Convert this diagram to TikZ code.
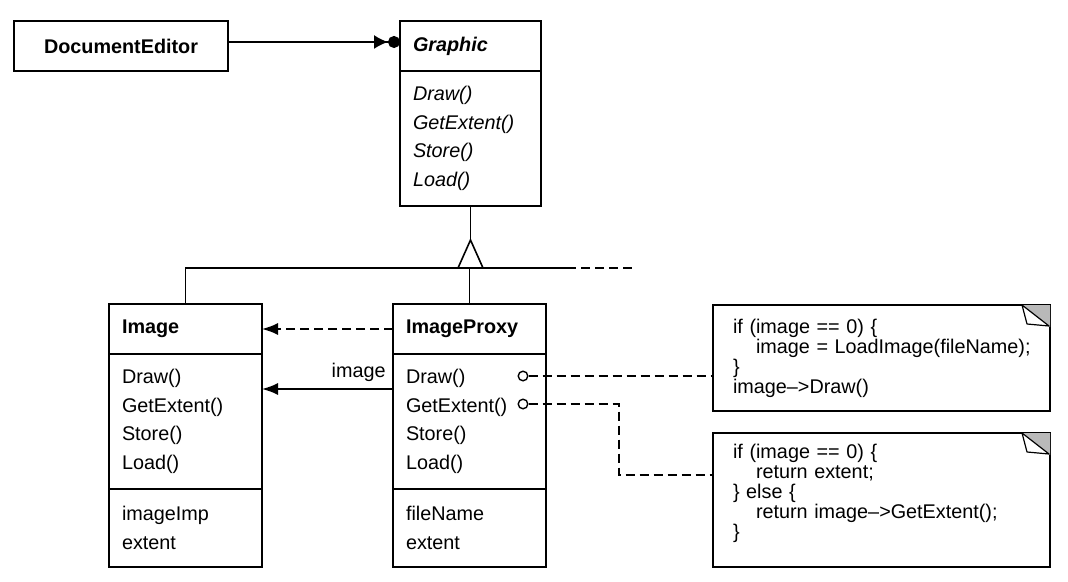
\documentclass[tikz,border=0pt]{standalone}
\usepackage{fontspec}
\setmainfont{Liberation Sans}
\usetikzlibrary{positioning,arrows.meta}

\newcommand\umlfont{\fontsize{9.9}{14.25}\selectfont}
\newcommand\notefont{\fontsize{9.9}{10}\selectfont}

\tikzset{
  cls/.style={draw,line width=.8pt,outer sep=0pt,inner xsep=6.5pt,inner ysep=0pt,
    align=left,anchor=north west,font=\umlfont},
  hdr/.style={cls,minimum height=25pt,font=\umlfont\bfseries},
  ops/.style={cls,minimum height=67.5pt},
  atts/.style={cls,minimum height=39pt},
  note/.style={draw,line width=.8pt,outer sep=0pt,inner xsep=10pt,anchor=north west,
    align=left,text width=148.5pt,font=\notefont},
  pin/.style={circle,draw,line width=.7pt,fill=white,inner sep=0pt,minimum size=4.8pt},
  conn/.style={line width=.8pt},
  dsh/.style={conn,dash pattern=on 4.5pt off 2.5pt},
  head/.style={-{Latex[length=8pt,width=6pt]}},
}

\begin{document}
\begin{tikzpicture}[x=.5pt,y=-.5pt]
\useasboundingbox (0,0) rectangle (1068,582);
%CLASSES
\node[hdr,text width=94pt,align=center] (docEd) at (14,21) {DocumentEditor};
\node[hdr,text width=57.5pt,font=\umlfont\bfseries\itshape] (graphicH) at (400,21) {Graphic};
\node[ops,text width=57.5pt,font=\umlfont\itshape,below=0pt of graphicH] (graphicOps) {Draw()\\GetExtent()\\Store()\\Load()};

\node[hdr,text width=63.5pt] (imageH) at (109,304) {Image};
\node[ops,text width=63.5pt,below=0pt of imageH] (imageOps) {Draw()\\GetExtent()\\Store()\\Load()};
\node[atts,text width=63.5pt,below=0pt of imageOps] (imageAtt) {imageImp\\extent};

\node[hdr,text width=63.5pt] (proxyH) at (393,304) {ImageProxy};
\node[ops,text width=63.5pt,below=0pt of proxyH] (proxyOps) {Draw()\\GetExtent()\\Store()\\Load()};
\node[atts,text width=63.5pt,below=0pt of proxyOps] (proxyAtt) {fileName\\extent};

%NOTES
\node[note,minimum height=53pt] (drawNote) at (713,305) {if (image == 0) \{\\\hspace*{11.5pt}\mbox{image = LoadImage(fileName);}\\\}\\image-->Draw()};
\node[note,minimum height=67pt,text depth=49pt] (extNote) at (713,433) {if (image == 0) \{\\\hspace*{11.5pt}return extent;\\\} else \{\\\hspace*{11.5pt}\mbox{return image-->GetExtent();}\\\}};
\foreach \n in {drawNote,extNote}{
  \fill[gray!55] ([xshift=-14pt]\n.north east) -- (\n.north east) -- ([yshift=-11pt]\n.north east) -- cycle;
  \draw[line width=.6pt,fill=white,line join=round] ([xshift=-14pt]\n.north east) -- ([xshift=-11.5pt,yshift=-9.5pt]\n.north east) -- ([xshift=-.5pt,yshift=-10.5pt]\n.north east) -- cycle;
}

%association
\draw[conn,-{Latex[length=7pt,width=7pt]Circle[length=6pt]}] ([yshift=2pt]docEd.east) -- ([yshift=2pt]graphicH.west);

%inheritance
\coordinate (apex) at ([yshift=-17pt]graphicOps.south);
\coordinate (bar) at (567,268);
\coordinate (barEnd) at (633,268);
\draw[conn] (graphicOps.south) -- (apex);
\draw[conn,line join=miter] (apex) -- ++(-12.5,28) -- ++(25,0) -- cycle;
\draw[conn] (imageH.north) |- (bar);
\draw[conn] (proxyH.north) -- (proxyH.north |- bar);
\draw[dsh] (bar) -- (barEnd);

%proxy -> image
\draw[dsh,head] (proxyH) -- (imageH);
\draw[conn,head] ([yshift=-17.5pt]proxyOps.north west) -- ([yshift=-17.5pt]imageOps.north east) node[pos=0,above left,font=\umlfont] {image};

%note links
\node[pin] (drawPin) at ([xshift=-11.5pt,yshift=-11pt]proxyOps.north east) {};
\node[pin] (extPin) at ([xshift=-11.5pt,yshift=-25pt]proxyOps.north east) {};
\coordinate (turn) at (619,475);
\draw[dsh] (drawPin) -- (drawPin -| drawNote.west);
\draw[dsh] (extPin) -| (turn) -- (turn -| extNote.west);
\end{tikzpicture}
\end{document}
